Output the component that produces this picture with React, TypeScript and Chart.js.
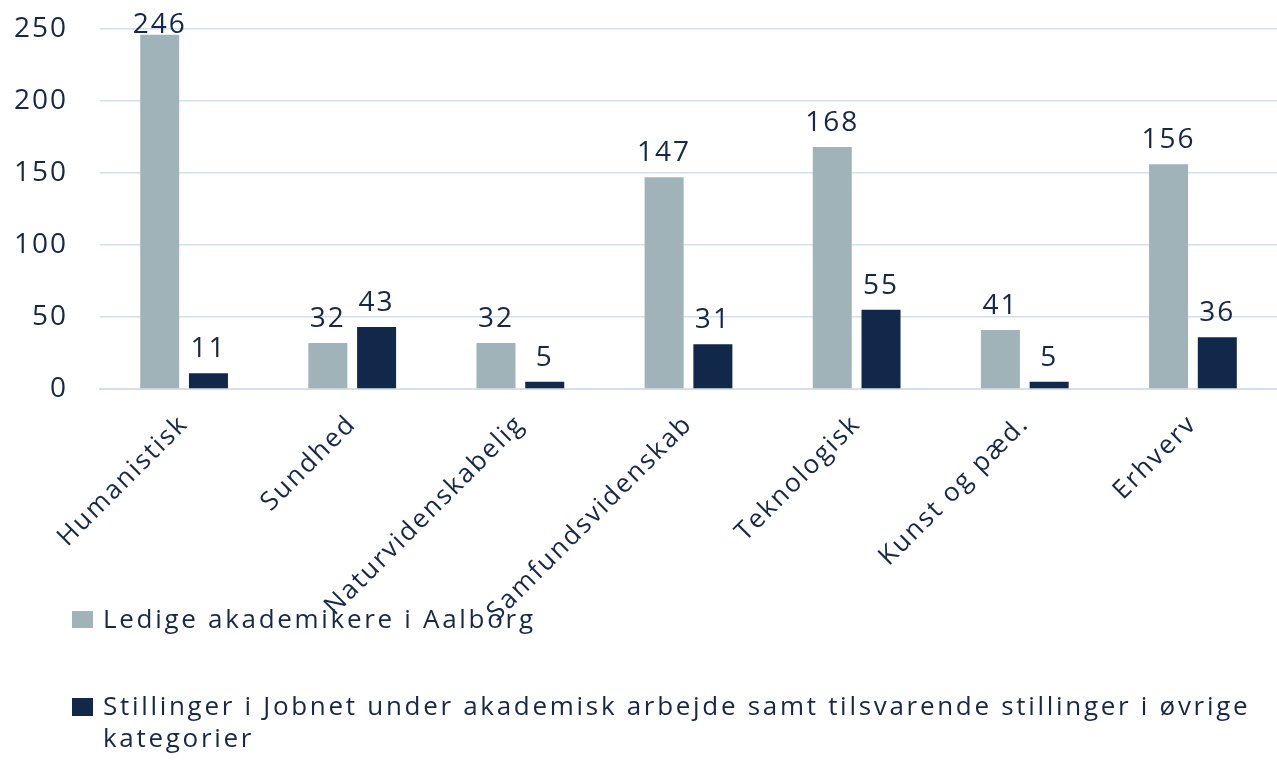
import React, { useEffect, useRef } from "react";
import { Chart, registerables } from "chart.js";

Chart.register(...registerables);

const categories = [
  "Humanistisk",
  "Sundhed",
  "Naturvidenskabelig",
  "Samfundsvidenskab",
  "Teknologisk",
  "Kunst og pæd.",
  "Erhverv",
];
const seriesNames = [
  "Ledige akademikere i Aalborg",
  "Stillinger i Jobnet under akademisk arbejde samt tilsvarende stillinger i øvrige kategorier",
];
const ledige = [246, 32, 32, 147, 168, 41, 156];
const stillinger = [11, 43, 5, 31, 55, 5, 36];
const yTicks = [0, 50, 100, 150, 200, 250];

const GREY = "#9fb3b9";
const NAVY = "#12284b";
const TEXT = "#16284a";
const GRID = "#d3dff0";
const FONT = "'Open Sans', 'Noto Sans', sans-serif";
const SPACING = "2px";

const spacingPlugin = {
  id: "spacing",
  beforeInit(chart: any) {
    chart.ctx.letterSpacing = SPACING;
  },
  beforeUpdate(chart: any) {
    chart.ctx.letterSpacing = SPACING;
  },
  beforeLayout(chart: any) {
    chart.ctx.letterSpacing = SPACING;
  },
  beforeDraw(chart: any) {
    chart.ctx.letterSpacing = SPACING;
  },
};

const valueLabels = {
  id: "valueLabels",
  afterDatasetsDraw(chart: any) {
    const { ctx, chartArea } = chart;
    ctx.save();
    ctx.letterSpacing = SPACING;
    ctx.font = `28px ${FONT}`;
    ctx.fillStyle = TEXT;
    ctx.textAlign = "center";
    ctx.textBaseline = "alphabetic";
    chart.data.datasets.forEach((ds: any, di: number) => {
      const meta = chart.getDatasetMeta(di);
      meta.data.forEach((bar: any, i: number) => {
        const y = Math.max(bar.y - 16, chartArea.top + 4);
        ctx.fillText(String(ds.data[i]), bar.x, y);
      });
    });
    ctx.restore();
  },
};

export default function App() {
  const ref = useRef<HTMLCanvasElement>(null);
  useEffect(() => {
    document.body.style.margin = "0";
    const chart = new Chart(ref.current!, {
      type: "bar",
      data: {
        labels: categories,
        datasets: [
          { label: seriesNames[0], data: ledige, backgroundColor: GREY },
          { label: seriesNames[1], data: stillinger, backgroundColor: NAVY },
        ],
      },
      options: {
        animation: false,
        responsive: false,
        maintainAspectRatio: false,
        layout: { padding: { top: 29, left: 0, right: 0, bottom: 0 } },
        datasets: { bar: { barPercentage: 0.8, categoryPercentage: 0.58 } },
        plugins: { legend: { display: false }, tooltip: { enabled: false } },
        scales: {
          x: {
            grid: { display: false },
            border: { display: true, color: GRID, width: 2 },
            ticks: {
              color: TEXT,
              font: { family: FONT, size: 26 },
              minRotation: 45,
              maxRotation: 45,
              autoSkip: false,
              padding: 12,
            },
            afterFit(scale: any) {
              scale.height = 371;
            },
          },
          y: {
            min: 0,
            max: 250,
            afterBuildTicks(scale: any) {
              scale.ticks = yTicks.map((v) => ({ value: v }));
            },
            grid: { color: GRID, lineWidth: 1.5, drawTicks: false },
            border: { display: false },
            ticks: {
              color: TEXT,
              font: { family: FONT, size: 28 },
              padding: 32,
            },
            afterFit(scale: any) {
              scale.width = 100;
              scale.paddingTop = 0;
              scale.paddingBottom = 0;
            },
          },
        },
      },
      plugins: [spacingPlugin, valueLabels],
    });
    return () => chart.destroy();
  }, []);

  const legendText: React.CSSProperties = {
    position: "absolute",
    left: 103,
    right: 4,
    font: `26px ${FONT}`,
    lineHeight: "32px",
    letterSpacing: "2.7px",
    color: TEXT,
  };
  return (
    <div style={{ position: "absolute", left: 0, top: 0, width: 1277, height: 760, background: "#fff" }}>
      <canvas ref={ref} width={1277} height={760} style={{ display: "block" }} />
      <div style={{ position: "absolute", left: 72, top: 611, width: 21, height: 17, background: GREY }} />
      <div style={{ ...legendText, top: 602 }}>{seriesNames[0]}</div>
      <div style={{ position: "absolute", left: 72, top: 698, width: 21, height: 18, background: NAVY }} />
      <div style={{ ...legendText, top: 689 }}>{seriesNames[1]}</div>
    </div>
  );
}
